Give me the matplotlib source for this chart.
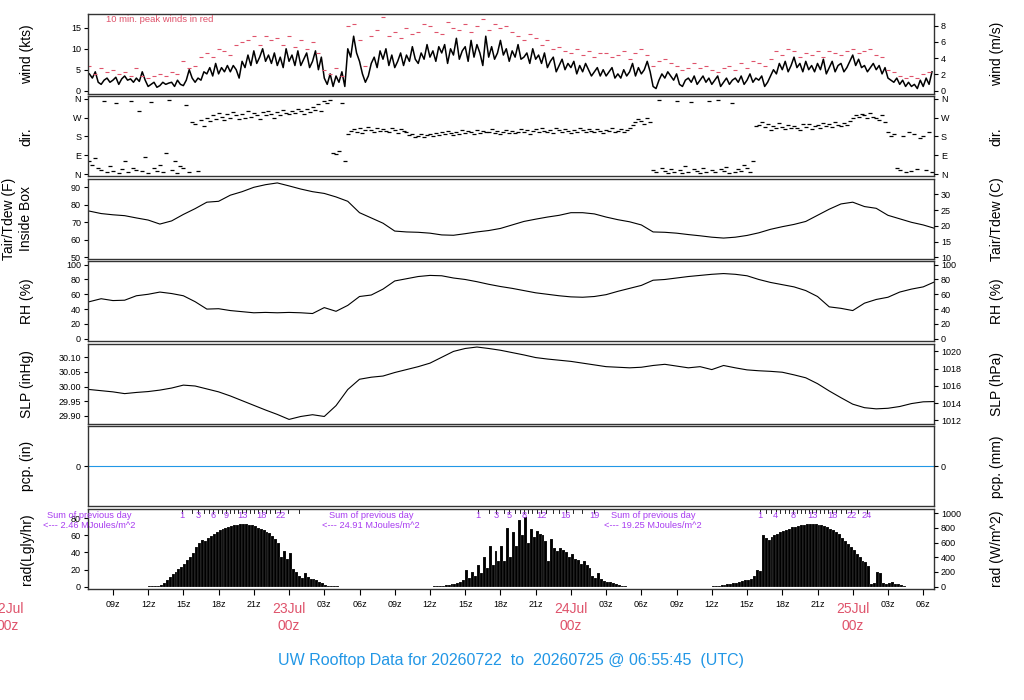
import numpy as np
import matplotlib
matplotlib.use('Agg')
import matplotlib.pyplot as plt
import matplotlib.transforms as mtransforms

plt.rcParams['font.family'] = ['Liberation Sans', 'DejaVu Sans']

# 시간축: 22Jul 00z 기준 시간(h)
t_start = 7.0
x_lim = (6.88, 78.92)

# 풍속 (kts), 15분 간격
wind_kts = [
    4.0, 3.0, 4.5, 2.0, 1.5, 2.5, 3.0, 2.0,
    2.5, 3.2, 1.5, 2.8, 3.5, 2.5, 2.8, 2.0,
    3.0, 2.2, 4.5, 2.5, 1.0, 1.5, 2.0, 0.8,
    1.2, 2.0, 1.5, 1.8, 2.0, 1.0, 2.5, 1.5,
    1.2, 2.5, 5.0, 3.0, 2.0, 3.0, 2.5, 4.5,
    4.0, 5.5, 3.5, 6.5, 4.0, 5.5, 4.5, 6.0,
    4.5, 6.0, 5.0, 3.0, 7.0, 5.5, 8.5, 6.0,
    9.5, 6.5, 8.0, 10.0, 7.0, 8.5, 6.5, 9.0,
    6.0, 8.0, 5.5, 10.0, 7.0, 8.5, 6.0, 9.5,
    6.0, 7.5, 9.0, 5.5, 7.0, 9.5, 5.0, 8.0,
    3.0, 1.5, 4.0, 1.0, 3.5, 2.0, 4.5, 1.0,
    10.0, 8.0, 13.0, 9.0, 7.0, 4.0, 2.0, 3.5,
    6.5, 8.0, 5.5, 9.5, 7.5, 10.0, 6.0, 8.5,
    5.5, 7.0, 9.0, 6.0, 8.5, 7.0, 10.5, 7.5,
    6.5, 9.0, 7.5, 11.0, 8.0, 9.5, 7.0, 10.5,
    9.0, 11.0, 6.5, 10.0, 8.5, 12.5, 7.5, 9.5,
    10.5, 7.0, 12.0, 8.0, 11.0, 9.0, 6.0, 13.0,
    8.0, 10.5, 7.5, 9.0, 12.0, 8.5, 10.0, 7.0,
    9.5, 8.0, 11.0, 7.5, 8.0, 9.0, 6.5, 10.0,
    7.5, 8.5, 6.5, 9.0, 5.5, 7.0, 8.0, 4.5,
    6.0, 7.5, 5.0, 6.5, 5.5, 7.0, 4.0, 6.0,
    4.5, 6.5, 5.0, 3.5, 4.5, 5.5, 3.5, 5.0,
    3.5, 4.5, 5.5, 3.0, 4.0, 3.0, 5.0, 3.5,
    4.5, 6.5, 3.5, 5.5, 4.0, 5.0, 7.0, 4.5,
    1.0, 0.5, 2.5, 4.0, 3.0, 4.5, 3.5, 2.5,
    4.0, 1.5, 1.0, 2.5, 3.0, 2.0, 3.5, 1.5,
    2.5, 3.5, 2.0, 3.0, 1.5, 2.5, 3.5, 1.0,
    2.0, 3.0, 1.5, 2.5, 3.0, 2.0, 3.5, 1.5,
    2.5, 4.0, 2.0, 3.0, 2.5, 3.5, 1.0, 2.0,
    3.5, 5.0, 4.0, 6.5, 5.0, 7.0, 4.5, 6.0,
    8.0, 5.5, 6.5, 4.5, 7.0, 5.0, 6.0, 4.5,
    6.5, 5.0, 7.5, 4.0, 5.5, 7.0, 4.5, 6.0,
    6.5, 4.5, 5.5, 7.0, 8.5, 6.0, 7.5, 5.5,
    6.0, 4.5, 5.5, 6.5, 5.0, 6.0, 4.0, 5.5,
    3.0, 2.5, 2.0, 3.0, 1.5, 2.5, 1.0, 2.0,
    1.0, 1.5, 0.5, 2.5, 1.0, 3.0, 1.5, 4.5,
]

# 10분 최대풍 (kts), 30분 간격
peak_kts = [
    6, 4, 5.5, 4.5, 5, 4, 4.5, 3.5,
    5.5, 3.5, 3, 3.5, 4, 3.5, 4.5, 4,
    7, 5.5, 6, 8, 9, 8, 10, 9.5,
    8.5, 11, 11.5, 12, 13, 11, 13, 12,
    12.5, 11, 13, 10.5, 12, 10, 11.5, 9,
    5, 4, 5.5, 3.5, 15.5, 16, 12, 6,
    13, 14.5, 17.5, 13, 14, 12.5, 15, 13.5,
    14, 16, 15.5, 14, 13.5, 16.5, 15, 14.5,
    16, 14, 15.5, 17, 14.5, 16, 15, 15.5,
    14, 13, 12, 13.5, 12.5, 11, 12, 10,
    10.5, 9.5, 9, 10, 8.5, 9.5, 8, 9,
    9, 8, 8.5, 9.5, 7.5, 9, 10, 8.5,
    6, 7, 7.5, 6.5, 6, 5, 5.5, 6.5,
    5.5, 6, 5, 4.5, 5.5, 6, 5, 6.5,
    5.5, 7, 6.5, 6, 7.5, 9.5, 8.5, 10,
    9.5, 8, 9, 8.5, 9.5, 8, 9.5, 9,
    8.5, 9.5, 10, 9, 9.5, 10, 8.5, 8,
    5, 4.5, 3.5, 3, 3.5, 3, 4, 4.5,
]

# 풍향 (deg), 15분 간격
wind_dir = [
    60, 45, 75, 30, 20, 350, 10, 40,
    15, 340, 5, 25, 60, 10, 350, 30,
    20, 300, 15, 80, 5, 345, 30, 15,
    45, 10, 100, 355, 20, 60, 5, 40,
    30, 330, 10, 250, 240, 15, 260, 230,
    270, 255, 280, 265, 290, 275, 260, 285,
    270, 295, 280, 265, 285, 270, 300, 275,
    290, 280, 265, 295, 280, 300, 285, 270,
    295, 280, 305, 290, 285, 300, 290, 310,
    300, 285, 310, 295, 320, 305, 335, 300,
    350, 340, 355, 100, 95, 110, 340, 60,
    190, 205, 215, 200, 220, 195, 210, 225,
    210, 200, 220, 205, 215, 205, 200, 220,
    210, 195, 215, 205, 200, 185, 190, 175,
    180, 190, 175, 185, 190, 180, 195, 185,
    200, 190, 205, 195, 185, 200, 190, 210,
    195, 205, 200, 190, 210, 195, 205, 200,
    200, 215, 195, 205, 190, 200, 210, 195,
    205, 195, 200, 215, 200, 210, 190, 205,
    215, 200, 220, 205, 200, 210, 195, 220,
    210, 200, 215, 205, 195, 210, 200, 220,
    210, 200, 215, 205, 200, 215, 205, 195,
    210, 205, 220, 200, 205, 215, 200, 210,
    220, 235, 250, 265, 255, 240, 270, 250,
    20, 10, 355, 30, 15, 5, 25, 10,
    350, 20, 5, 40, 10, 345, 25, 15,
    5, 30, 10, 350, 20, 10, 355, 25,
    15, 35, 5, 340, 10, 25, 15, 45,
    30, 10, 60, 230, 235, 250, 225, 240,
    210, 230, 220, 245, 225, 215, 235, 220,
    230, 220, 210, 240, 225, 240, 215, 230,
    235, 220, 245, 230, 240, 225, 250, 235,
    230, 245, 235, 255, 270, 280, 275, 285,
    280, 270, 290, 275, 270, 260, 280, 250,
    200, 180, 190, 30, 20, 180, 10, 200,
    15, 190, 25, 170, 180, 20, 200, 10,
]

# 기온 (F), 1시간 간격 (07z 22Jul ~ 07z 25Jul)
temp_f = [
    76.4, 75.0, 74.3, 73.8, 72.5, 71.3, 69.0, 70.8, 74.5, 77.8,
    81.5, 82.0, 85.5, 87.5, 90.0, 91.5, 92.5, 90.8, 89.0, 87.5,
    86.5, 84.5, 82.0, 75.5, 72.5, 69.5, 65.0, 64.5, 64.3, 63.8,
    62.8, 62.6, 63.5, 64.5, 65.3, 66.5, 68.5, 70.5, 71.8, 73.0,
    74.0, 75.5, 75.5, 74.8, 73.0, 71.5, 70.3, 68.5, 64.5, 64.3,
    63.8, 63.0, 62.3, 61.5, 61.0, 61.5, 62.5, 64.0, 66.0, 67.5,
    68.8, 70.5, 74.0, 77.5, 80.5, 81.5, 79.0, 78.0, 74.0, 72.0,
    70.0, 68.5, 66.5,
]

# 상대습도 (%)
rh_pct = [
    50, 54, 51.5, 52, 58, 60, 63, 61, 58, 50,
    40, 40.5, 38, 36.5, 35, 35.5, 35, 35.5, 35, 34,
    42, 37, 45, 57, 59, 67, 78, 81, 84, 85.5,
    85, 82, 80, 77, 73.5, 70.5, 68, 65, 62, 60,
    58, 56.5, 56, 57, 59.5, 64, 68, 72, 79, 80,
    82, 84, 85.5, 87, 88, 87, 85, 80, 76, 73,
    70, 65, 57, 43, 41, 38, 48, 53, 56, 63,
    67, 70, 77,
]

# 해면기압 (inHg)
slp_inhg = [
    29.990, 29.986, 29.982, 29.976, 29.980, 29.983, 29.988, 29.995, 30.005, 30.002,
    29.992, 29.982, 29.968, 29.952, 29.936, 29.920, 29.905, 29.888, 29.898, 29.904,
    29.898, 29.935, 29.990, 30.025, 30.032, 30.036, 30.048, 30.058, 30.068, 30.080,
    30.100, 30.120, 30.130, 30.135, 30.130, 30.124, 30.116, 30.108, 30.099, 30.094,
    30.090, 30.086, 30.080, 30.074, 30.068, 30.066, 30.064, 30.066, 30.072, 30.076,
    30.070, 30.064, 30.068, 30.058, 30.072, 30.064, 30.057, 30.054, 30.052, 30.049,
    30.040, 30.030, 30.010, 29.985, 29.962, 29.940, 29.928, 29.924, 29.926, 29.932,
    29.942, 29.948, 29.949,
]

# 강수량 (in) - 전부 0
pcp_in = [0.0] * 73

# 일사량 (W/m^2), 15분 간격
rad_wm2 = [
    0, 0, 0, 0, 0, 0, 0, 0,
    0, 0, 0, 0, 0, 0, 0, 0,
    0, 0, 0, 0, 10, 12, 12, 14,
    20, 50, 90, 125, 170, 205, 240, 270,
    310, 360, 410, 460, 545, 590, 640, 620,
    660, 690, 715, 740, 770, 785, 800, 812,
    822, 832, 842, 850, 852, 850, 845, 835,
    820, 800, 780, 765, 750, 730, 690, 650,
    600, 400, 480, 380, 460, 240, 200, 150,
    115, 190, 125, 100, 100, 85, 70, 55,
    25, 15, 10, 5, 5, 0, 0, 0,
    0, 0, 0, 0, 0, 0, 0, 0,
    0, 0, 0, 0, 0, 0, 0, 0,
    0, 0, 0, 0, 0, 0, 0, 0,
    0, 0, 0, 0, 0, 5, 8, 10,
    15, 20, 25, 30, 40, 50, 60, 90,
    230, 120, 200, 150, 300, 180, 400, 250,
    550, 300, 480, 350, 550, 350, 800, 400,
    750, 550, 900, 700, 950, 600, 780, 670,
    760, 720, 700, 620, 350, 650, 520, 480,
    520, 500, 470, 410, 450, 380, 360, 310,
    350, 300, 250, 150, 120, 180, 100, 80,
    70, 60, 45, 35, 20, 10, 5, 0,
    0, 0, 0, 0, 0, 0, 0, 0,
    0, 0, 0, 0, 0, 0, 0, 0,
    0, 0, 0, 0, 0, 0, 0, 0,
    0, 0, 0, 0, 5, 8, 12, 18,
    25, 30, 40, 50, 55, 65, 75, 85,
    95, 105, 150, 225, 210, 700, 660, 640,
    680, 700, 720, 740, 755, 770, 790, 805,
    815, 825, 835, 845, 850, 855, 855, 852,
    845, 835, 825, 810, 790, 770, 745, 720,
    660, 620, 580, 540, 500, 450, 400, 350,
    340, 280, 40, 45, 200, 190, 45, 40,
    45, 60, 40, 30, 20, 10, 0, 0,
    0, 0, 0, 0, 0, 0, 0, 0,
]

# 하루 누적 일사량 (로컬 자정 = 07z)
day_starts = [7, 31, 55]
prev_day_sums = ['2.46', '24.91', '19.25']
cum_labels = [[1, 3, 6, 9, 13, 18, 22], [1, 3, 5, 8, 12, 16, 19], [1, 4, 8, 13, 18, 22, 24]]

date_hours = [0, 24, 48, 72]
date_names = ['22Jul', '23Jul', '24Jul', '25Jul']

t_15 = t_start + 0.25 * np.arange(len(wind_kts))
t_30 = t_start + 0.5 * np.arange(len(peak_kts))
t_hr = t_start + np.arange(len(temp_f))
t_rad = t_start + 0.25 * np.arange(len(rad_wm2))

RED = '#DF536B'
BLUE = '#2297E6'
PURPLE = '#A83CF0'

fig = plt.figure(figsize=(10.24, 7.0), dpi=100)
W, H = 1024, 700
L_PX, R_PX = 88, 934


def make_panel(i):
    top = 14 + 82.45 * i
    ax = fig.add_axes([L_PX / W, 1 - (top + 80) / H, (R_PX - L_PX) / W, 80 / H])
    ax.set_xlim(*x_lim)
    ax.set_xticks([])
    for s in ax.spines.values():
        s.set_color('#333333')
        s.set_linewidth(1.0)
    ax.tick_params(axis='y', direction='out', length=3, labelsize=6.5, pad=2)
    return ax


def twin(ax, lim, ticks, labels, label):
    ax2 = ax.twinx()
    ax2.set_ylim(*lim)
    ax2.set_yticks(ticks)
    ax2.set_yticklabels(labels)
    ax2.tick_params(axis='y', direction='out', length=3, labelsize=6.5, pad=2)
    ax2.set_ylabel(label, fontsize=10)
    ax2.yaxis.set_label_coords(1.066, 0.5)
    for s in ax2.spines.values():
        s.set_visible(False)
    return ax2


def left_label(ax, label, x=-0.064):
    ax.set_ylabel(label, fontsize=10)
    ax.yaxis.set_label_coords(x, 0.5)


# 1. 풍속
ax = make_panel(0)
ylim = (-0.8, 18.3)
ax.plot(t_15, wind_kts, color='black', lw=1.1)
ax.plot(t_30, peak_kts, ls='none', marker='_', ms=3, mew=0.8, color=RED)
ax.set_ylim(*ylim)
ax.set_yticks([0, 5, 10, 15])
left_label(ax, 'wind (kts)')
ax.text(0.021, 0.93, '10 min. peak winds in red', transform=ax.transAxes,
        color=RED, fontsize=6.8, ha='left', va='center')
twin(ax, (ylim[0] / 1.94384, ylim[1] / 1.94384), [0, 2, 4, 6, 8],
     ['0', '2', '4', '6', '8'], 'wind (m/s)')

# 2. 풍향
ax = make_panel(1)
ax.plot(t_15, wind_dir, ls='none', marker='_', ms=2.5, mew=0.9, color='black')
ax.set_ylim(-11.5, 371)
dir_ticks = [0, 90, 180, 270, 360]
dir_names = ['N', 'E', 'S', 'W', 'N']
ax.set_yticks(dir_ticks)
ax.set_yticklabels(dir_names)
left_label(ax, 'dir.')
twin(ax, (-11.5, 371), dir_ticks, dir_names, 'dir.')

# 3. 기온
ax = make_panel(2)
ylim = (49.1, 94.8)
ax.plot(t_hr, temp_f, color='black', lw=0.8)
ax.set_ylim(*ylim)
ax.set_yticks([50, 60, 70, 80, 90])
left_label(ax, 'Tair/Tdew (F)\nInside Box', x=-0.065)
ax.yaxis.label.set_linespacing(1.3)
twin(ax, ((ylim[0] - 32) * 5 / 9, (ylim[1] - 32) * 5 / 9), [10, 15, 20, 25, 30],
     ['10', '15', '20', '25', '30'], 'Tair/Tdew (C)')

# 4. 습도
ax = make_panel(3)
ylim = (-3.6, 104.5)
ax.plot(t_hr, rh_pct, color='black', lw=0.8)
ax.set_ylim(*ylim)
rh_ticks = [0, 20, 40, 60, 80, 100]
ax.set_yticks(rh_ticks)
left_label(ax, 'RH (%)')
twin(ax, ylim, rh_ticks, [str(v) for v in rh_ticks], 'RH (%)')

# 5. 기압
ax = make_panel(4)
ylim = (29.873, 30.146)
ax.plot(t_hr, slp_inhg, color='black', lw=0.8)
ax.set_ylim(*ylim)
ax.set_yticks([29.90, 29.95, 30.00, 30.05, 30.10])
ax.set_yticklabels(['29.90', '29.95', '30.00', '30.05', '30.10'])
left_label(ax, 'SLP (inHg)')
hpa = [1012, 1014, 1016, 1018, 1020]
twin(ax, (ylim[0] * 33.8639, ylim[1] * 33.8639), hpa, [str(v) for v in hpa], 'SLP (hPa)')

# 6. 강수
ax = make_panel(5)
ax.plot(t_hr, pcp_in, color=BLUE, lw=0.8)
ax.set_ylim(-1, 1)
ax.set_yticks([0])
left_label(ax, 'pcp. (in)')
twin(ax, (-25.4, 25.4), [0], ['0'], 'pcp. (mm)')

# 7. 일사량
ax = make_panel(6)
ylim = (-2.35, 91.2)
rad_ly = np.array(rad_wm2) / 11.622
ax.bar(t_rad, rad_ly, width=0.25, align='edge', color='black',
       edgecolor='white', linewidth=0.1)
ax.set_ylim(*ylim)
ax.set_yticks([0, 20, 40, 60, 80])
left_label(ax, 'rad(Lgly/hr)')
wm = [0, 200, 400, 600, 800, 1000]
twin(ax, (ylim[0] * 11.622, ylim[1] * 11.622), wm, [str(v) for v in wm], 'rad (W/m^2)')

xt = np.arange(9, 79, 3)
ax.set_xticks(xt)
ax.set_xticklabels(['' if h % 24 == 0 else '%02dz' % (h % 24) for h in xt])
ax.tick_params(axis='x', direction='out', length=4, labelsize=6.5, pad=4)

trans = mtransforms.blended_transform_factory(ax.transData, ax.transAxes)
for h, name in zip(date_hours, date_names):
    ax.text(h, -0.17, name + '\n00z', transform=trans, ha='center', va='top',
            color=RED, fontsize=10, linespacing=1.2)

# 누적 일사량 눈금 (MJ/m^2)
energy = np.array(rad_wm2) * 900 / 1e6
for d, ds in enumerate(day_starts):
    mask = (t_rad >= ds) & (t_rad < ds + 24)
    tt = t_rad[mask]
    ee = energy[mask]
    cum = np.cumsum(ee)
    before = cum - ee
    k = 1
    while k <= cum[-1]:
        i = np.argmax(cum >= k)
        tc = tt[i] + 0.25 * (k - before[i]) / ee[i]
        ax.plot([tc, tc], [1.0, 0.95], transform=trans, color='black', lw=0.6,
                clip_on=False)
        if k in cum_labels[d]:
            ax.text(tc, 0.92, str(k), transform=trans, ha='center', va='center',
                    color=PURPLE, fontsize=6.7)
        k += 1
    ax.text(ds, 0.92, 'Sum of previous day', transform=trans, ha='center',
            va='center', color=PURPLE, fontsize=6.7)
    ax.text(ds, 0.79, '<--- %s MJoules/m^2' % prev_day_sums[d], transform=trans,
            ha='center', va='center', color=PURPLE, fontsize=6.7)

fig.text(0.4995, 1 - 660 / H, 'UW Rooftop Data for 20260722  to  20260725 @ 06:55:45  (UTC)',
         ha='center', va='center', color=BLUE, fontsize=11.5)

fig.savefig('out.png', dpi=100)
